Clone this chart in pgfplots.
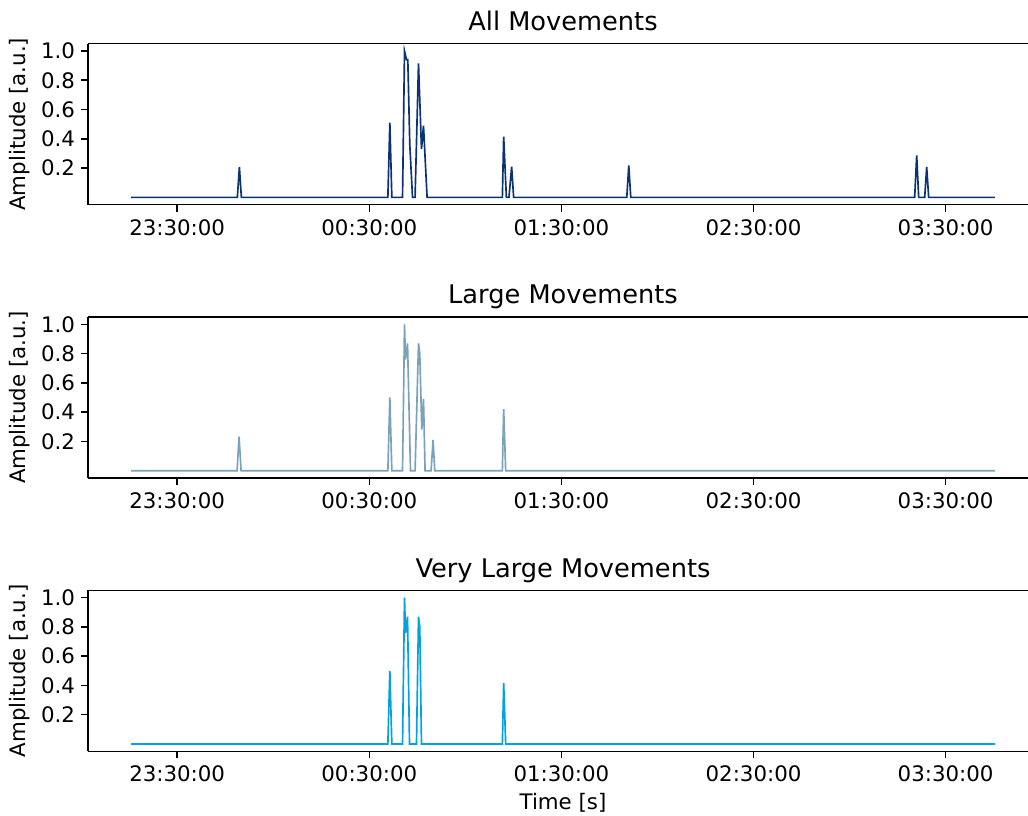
\documentclass[border=0pt]{standalone}
\usepackage{pgfplots}
\pgfplotsset{compat=1.18}
\usepackage{fontspec}
\setmainfont{DejaVu Sans}
\definecolor{cA}{HTML}{0B3272}
\definecolor{cB}{HTML}{7AA2BA}
\definecolor{cC}{HTML}{00A2E0}
\pgfplotsset{
  panel/.style={
    scale only axis, width=580pt, height=96.6pt,
    anchor=south west, clip=false,
    axis lines*=left,
    xmin=-27.85, xmax=274.05, ymin=-0.05, ymax=1.05,
    xtick={0,60,120,180,240},
    xticklabels={23:30:00,00:30:00,01:30:00,02:30:00,03:30:00},
    ytick={0.2,0.4,0.6,0.8,1.0},
    yticklabels={0.2,0.4,0.6,0.8,1.0},
    tick align=outside, major tick length=4.3pt,
    every tick/.style={black, line width=0.9pt},
    axis line style={line width=0.9pt, -},
    /pgf/number format/assume math mode=true,
    tick label style={font=\fontsize{12.8}{15}\selectfont},
    xticklabel style={yshift=-1pt},
    label style={font=\fontsize{12.8}{15}\selectfont},
    every axis title shift=0pt,
    title style={font=\fontsize{15.4}{18}\selectfont, at={(axis description cs:0.5,1)}, anchor=base, yshift=7.8pt, xshift=-5pt},
    ylabel={Amplitude [a.u.]},
    ylabel style={at={([xshift=-41.3pt]axis description cs:0,0.5)}, anchor=center},
    every axis plot/.style={line width=1pt},
    after end axis/.code={\draw[line width=0.9pt] (rel axis cs:0,1) -- (rel axis cs:1,1);},
  }
}
\begin{document}
\begin{tikzpicture}
\begin{axis}[panel, at={(52.8pt,366.8pt)}, title={All Movements}]
\addplot[cA] coordinates {(-14.36,0) (18.80,0) (19.43,0.207) (20.05,0) (65.80,0) (66.42,0.51) (67.04,0) (70.38,0) (71.00,1.0) (71.62,0.94) (72.03,0.94) (72.65,0.36) (73.50,0) (74.30,0) (75.37,0.915) (76.30,0.33) (76.93,0.49) (78.05,0) (101.56,0) (101.97,0.415) (102.81,0) (103.62,0) (104.46,0.21) (105.08,0) (140.42,0) (141.04,0.218) (141.66,0) (230.33,0) (230.96,0.286) (231.58,0) (233.46,0) (234.08,0.207) (234.70,0) (255.4,0)};
\end{axis}
\begin{axis}[panel, at={(52.8pt,202.8pt)}, title={Large Movements}]
\addplot[cB] coordinates {(-14.36,0) (18.71,0) (19.33,0.233) (19.96,0) (65.80,0) (66.42,0.50) (67.04,0) (70.38,0) (71.00,1.0) (71.31,0.76) (71.94,0.87) (72.87,0) (74.30,0) (75.37,0.87) (75.77,0.80) (76.40,0.28) (76.93,0.49) (77.42,0) (79.30,0) (79.92,0.21) (80.45,0) (101.56,0) (101.97,0.42) (102.60,0) (255.4,0)};
\end{axis}
\begin{axis}[panel, at={(52.8pt,38.8pt)}, title={Very Large Movements}, xlabel={Time [s]}, xlabel style={xshift=-5pt}]
\addplot[cC] coordinates {(-14.36,0) (65.80,0) (66.42,0.50) (67.04,0) (70.38,0) (71.00,1.0) (71.31,0.76) (71.94,0.87) (72.56,0) (74.74,0) (75.37,0.87) (75.77,0.80) (76.30,0) (101.56,0) (101.97,0.415) (102.60,0) (255.4,0)};
\end{axis}
\pgfresetboundingbox
\useasboundingbox (0,0) rectangle (616.8pt,489.6pt);
\end{tikzpicture}
\end{document}
